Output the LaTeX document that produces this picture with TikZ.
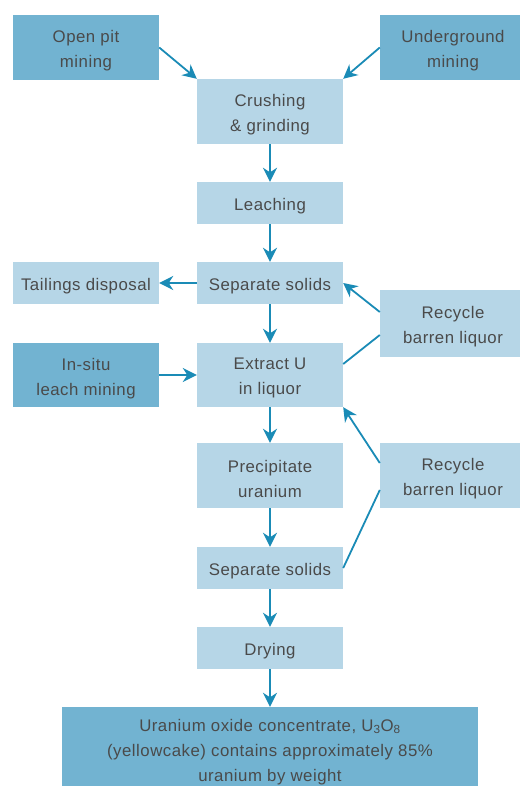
\documentclass[tikz,border=0pt]{standalone}
\usepackage{fontspec}
\setmainfont[LetterSpace=3]{Liberation Sans}
\usetikzlibrary{arrows.meta,calc}
\definecolor{darkbox}{HTML}{72B3D1}
\definecolor{lightbox}{HTML}{B6D6E7}
\definecolor{arrowc}{HTML}{1A8BB6}
\definecolor{txt}{HTML}{4A4A4A}
\begin{document}
\begin{tikzpicture}[x=1pt,y=-1pt,
  lbl/.style={inner sep=0pt, align=center, text=txt, yshift=-3.2pt, font=\fontsize{16.8}{25}\selectfont},
  box/.style={inner sep=0pt, minimum width=146pt, label={[lbl]center:#1}},
  darkb/.style={box={#1}, fill=darkbox},
  lightb/.style={box={#1}, fill=lightbox},
  conn/.style={draw=arrowc, line width=1.8pt},
  arr/.style={conn, -{Stealth[length=14pt,width=14pt,inset=4.5pt]}}]
\useasboundingbox (0,0) rectangle (519,786);
\node[darkb={Open pit\\mining}, minimum height=65pt] (open) at (86,47.5) {};
\node[darkb={Underground\\mining}, minimum height=65pt] (under) at (453,47.5) {};
\node[lightb={Crushing\\\& grinding}, minimum height=65pt] (crush) at (270,111.5) {};
\node[lightb={Leaching}, minimum height=42pt] (leach) at (270,203) {};
\node[lightb={Separate solids}, minimum height=42pt] (sep1) at (270,283) {};
\node[lightb={Tailings disposal}, minimum height=42pt] (tail) at (86,283) {};
\node[lightb={Recycle\\barren liquor}, minimum height=67pt] (rec1) at (453,323.5) {};
\node[darkb={In-situ\\leach mining}, minimum height=64pt] (insitu) at (86,375) {};
\node[lightb={Extract U\\in liquor}, minimum height=64pt] (extract) at (270,375) {};
\node[lightb={Precipitate\\uranium}, minimum height=65pt] (precip) at (270,475.5) {};
\node[lightb={Recycle\\barren liquor}, minimum height=65pt] (rec2) at (453,475.5) {};
\node[lightb={Separate solids}, minimum height=42pt] (sep2) at (270,568) {};
\node[lightb={Drying}, minimum height=42pt] (dry) at (270,648) {};
\node[darkb={{Uranium oxide concentrate, U\textsubscript{3}O\textsubscript{8}\\(yellowcake) contains approximately 85\%\\uranium by weight}}, minimum height=83pt, minimum width=416pt] (conc) at (270,748.5) {};

\draw[arr] (open.east) -- (crush.north west);
\draw[arr] (under.west) -- (crush.north east);
\draw[arr] (crush) -- (leach);
\draw[arr] (leach) -- (sep1);
\draw[arr] (sep1) -- (tail);
\draw[arr] (sep1) -- (extract);
\draw[arr] ($(rec1.west)+(0,-11.5)$) -- (sep1.east);
\draw[conn] ($(extract.east)+(0,-11)$) -- ($(rec1.west)+(0,11.5)$);
\draw[arr] (insitu) -- (extract);
\draw[arr] (extract) -- (precip);
\draw[arr] (precip) -- (sep2);
\draw[arr] ($(rec2.west)+(0,-12.5)$) -- (extract.south east);
\draw[conn] (sep2.east) -- ($(rec2.west)+(0,14.5)$);
\draw[arr] (sep2) -- (dry);
\draw[arr] (dry) -- (conc);
\end{tikzpicture}
\end{document}
